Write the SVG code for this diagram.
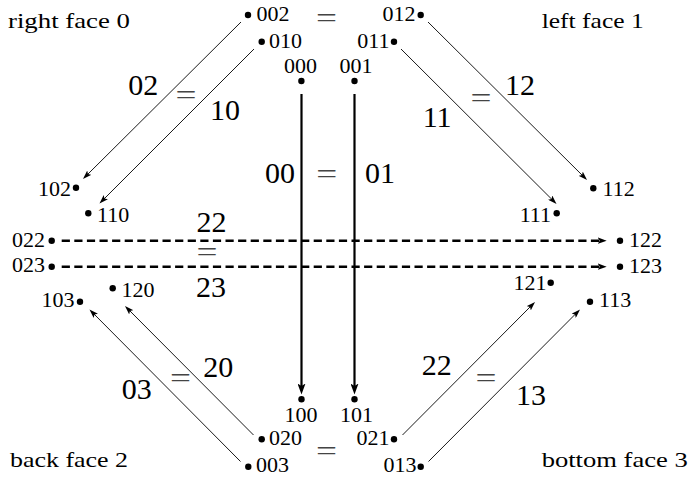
<svg xmlns="http://www.w3.org/2000/svg" width="690" height="483" viewBox="0 0 690 483">
<style>
text{font-family:"Liberation Serif","DejaVu Serif",serif;fill:#000}
.n{font-size:22px}
.b{font-size:30px}
.f{font-size:21px}
.eq{font-size:28px;fill:#444}
.e{text-anchor:end}
.m{text-anchor:middle}
.thin{stroke:#000;stroke-width:0.9;fill:none;marker-end:url(#ah)}
.vert{stroke:#000;stroke-width:2.2;fill:none;marker-end:url(#ahv)}
.dash{stroke:#000;stroke-width:2.6;fill:none;stroke-dasharray:8.2 4.4;marker-end:url(#ahd)}
circle{fill:#000}
</style>
<defs>
<marker id="ah" markerUnits="userSpaceOnUse" viewBox="0 0 9 6" markerWidth="9" markerHeight="6" refX="5" refY="3" orient="auto"><path d="M0,0 L9,3 L0,6 L2,3 z" fill="#000"/></marker>
<marker id="ahv" markerUnits="userSpaceOnUse" viewBox="0 0 11 8" markerWidth="11" markerHeight="8" refX="6" refY="4" orient="auto"><path d="M0,0 L11,4 L0,8 L2.5,4 z" fill="#000"/></marker>
<marker id="ahd" markerUnits="userSpaceOnUse" viewBox="0 0 9 6.5" markerWidth="9" markerHeight="6.5" refX="4.5" refY="3.25" orient="auto"><path d="M0,0 L9,3.25 L0,6.5 L2,3.25 z" fill="#000"/></marker>
</defs>
<rect width="690" height="483" fill="#fff"/>

<g id="connectors">
<line class="dash" x1="61.7" y1="240.7" x2="602.2" y2="240.7"/>
<line class="dash" x1="61.7" y1="266.7" x2="602.2" y2="266.7"/>
<line class="vert" x1="301.5" y1="94" x2="301.5" y2="389.5"/>
<line class="vert" x1="354.5" y1="94" x2="354.5" y2="389.5"/>
<line class="thin" x1="241" y1="22" x2="85.8" y2="176.2"/>
<line class="thin" x1="254" y1="49" x2="102.3" y2="200.7"/>
<line class="thin" x1="428" y1="22" x2="584.2" y2="177.2"/>
<line class="thin" x1="401" y1="49" x2="553.7" y2="201.2"/>
<line class="thin" x1="253.5" y1="435" x2="127.8" y2="308.8"/>
<line class="thin" x1="240.5" y1="461.5" x2="92.3" y2="312.3"/>
<line class="thin" x1="402.5" y1="435" x2="532.2" y2="304.8"/>
<line class="thin" x1="428.5" y1="461.5" x2="577.2" y2="312.3"/>
</g>

<g id="n002"><circle cx="248" cy="15" r="3.2"/><text class="n" x="256.5" y="20.5">002</text></g>
<g id="n010"><circle cx="261.7" cy="41.7" r="3.2"/><text class="n" x="269" y="47.5">010</text></g>
<g id="n000"><circle cx="301.4" cy="81" r="3.2"/><text class="n m" x="300.5" y="72.5">000</text></g>
<g id="n001"><circle cx="354.5" cy="81" r="3.2"/><text class="n m" x="356" y="72.5">001</text></g>
<g id="n012"><circle cx="420.7" cy="15" r="3.2"/><text class="n e" x="415.5" y="20.5">012</text></g>
<g id="n011"><circle cx="394" cy="41.7" r="3.2"/><text class="n e" x="389.5" y="47.5">011</text></g>
<g id="n102"><circle cx="76" cy="187.7" r="3.2"/><text class="n e" x="71" y="195.5">102</text></g>
<g id="n110"><circle cx="88.3" cy="213.3" r="3.2"/><text class="n" x="97" y="221.5">110</text></g>
<g id="n022"><circle cx="51.7" cy="240.7" r="3.2"/><text class="n e" x="45" y="246.5">022</text></g>
<g id="n023"><circle cx="51.7" cy="266.7" r="3.2"/><text class="n e" x="45" y="272">023</text></g>
<g id="n103"><circle cx="80" cy="301.7" r="3.2"/><text class="n e" x="74.5" y="307">103</text></g>
<g id="n120"><circle cx="112.7" cy="288.3" r="3.2"/><text class="n" x="121.5" y="296.5">120</text></g>
<g id="n112"><circle cx="593.3" cy="188.3" r="3.2"/><text class="n" x="602.5" y="195.5">112</text></g>
<g id="n111"><circle cx="556.7" cy="213.3" r="3.2"/><text class="n e" x="551" y="221.5">111</text></g>
<g id="n122"><circle cx="620" cy="240.7" r="3.2"/><text class="n" x="629" y="247">122</text></g>
<g id="n123"><circle cx="620" cy="266.7" r="3.2"/><text class="n" x="629" y="273">123</text></g>
<g id="n121"><circle cx="550.7" cy="282.7" r="3.2"/><text class="n e" x="546.5" y="290">121</text></g>
<g id="n113"><circle cx="590" cy="301.7" r="3.2"/><text class="n" x="599" y="307">113</text></g>
<g id="n100"><circle cx="301.5" cy="399.3" r="3.2"/><text class="n m" x="301" y="421.5">100</text></g>
<g id="n101"><circle cx="354.5" cy="399.3" r="3.2"/><text class="n m" x="356.5" y="421.5">101</text></g>
<g id="n020"><circle cx="261.7" cy="439.3" r="3.2"/><text class="n" x="269" y="445">020</text></g>
<g id="n003"><circle cx="248.3" cy="466.7" r="3.2"/><text class="n" x="256" y="471.5">003</text></g>
<g id="n021"><circle cx="394" cy="439.3" r="3.2"/><text class="n e" x="389.5" y="445">021</text></g>
<g id="n013"><circle cx="420.7" cy="466.7" r="3.2"/><text class="n e" x="416.5" y="471.5">013</text></g>

<g id="edge-labels">
<text class="b" x="128.3" y="95">02</text>
<text class="b" x="210" y="120">10</text>
<text class="b" x="505" y="95">12</text>
<text class="b" x="422.7" y="126.7">11</text>
<text class="b" x="265" y="183.3">00</text>
<text class="b" x="365" y="183.3">01</text>
<text class="b" x="196.5" y="232">22</text>
<text class="b" x="196" y="297">23</text>
<text class="b" x="203.3" y="376.7">20</text>
<text class="b" x="121.7" y="399">03</text>
<text class="b" x="421.7" y="375">22</text>
<text class="b" x="516" y="405">13</text>
<text class="eq" x="316" y="26.6" textLength="21" lengthAdjust="spacingAndGlyphs">=</text>
<text class="eq" x="175.5" y="103.6" textLength="21" lengthAdjust="spacingAndGlyphs">=</text>
<text class="eq" x="470.5" y="106.6" textLength="21" lengthAdjust="spacingAndGlyphs">=</text>
<text class="eq" x="316.2" y="182.6" textLength="21" lengthAdjust="spacingAndGlyphs">=</text>
<text class="eq" x="196.5" y="261.3" textLength="21" lengthAdjust="spacingAndGlyphs">=</text>
<text class="eq" x="170" y="386.6" textLength="21" lengthAdjust="spacingAndGlyphs">=</text>
<text class="eq" x="475.5" y="386.6" textLength="21" lengthAdjust="spacingAndGlyphs">=</text>
<text class="eq" x="316" y="460.1" textLength="21" lengthAdjust="spacingAndGlyphs">=</text>
</g>

<g id="face-labels">
<text class="f" x="8" y="28" textLength="122" lengthAdjust="spacingAndGlyphs">right face 0</text>
<text class="f" x="541.7" y="28" textLength="102" lengthAdjust="spacingAndGlyphs">left face 1</text>
<text class="f" x="10" y="466.7" textLength="118" lengthAdjust="spacingAndGlyphs">back face 2</text>
<text class="f" x="541.7" y="466.7" textLength="146" lengthAdjust="spacingAndGlyphs">bottom face 3</text>
</g>
</svg>
